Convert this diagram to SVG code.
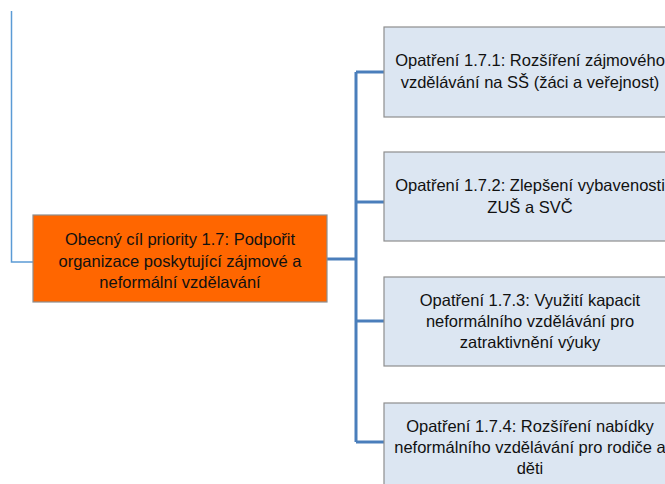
<svg xmlns="http://www.w3.org/2000/svg" width="665" height="484" viewBox="0 0 665 484">
<style>
.box{fill:#DCE6F2;stroke:#8E8E8E;stroke-width:1.2}
.main{fill:#FF6600;stroke:#8E8E8E;stroke-width:1.2}
.t{font-family:"Liberation Sans",Arial,sans-serif;font-size:16.5px;fill:#111;text-anchor:middle}
.c{fill:none;stroke:#4A7EBB;stroke-width:3}
</style>
<g id="connectors">
<path d="M11.5,11 V262 H33" fill="none" stroke="#5B9BD5" stroke-width="1.5"/>
<path class="c" d="M327,259 H356"/>
<path class="c" d="M356,72 V442"/>
<path class="c" d="M356,72 H384"/>
<path class="c" d="M356,202 H384"/>
<path class="c" d="M356,321 H384"/>
<path class="c" d="M356,442 H384"/>
</g>
<g id="goal">
<rect class="main" x="33" y="215" width="294" height="87"/>
<text class="t"><tspan x="180" y="245">Obecný cíl priority 1.7: Podpořit</tspan><tspan x="180" y="267">organizace poskytující zájmové a</tspan><tspan x="180" y="288">neformální vzdělavání</tspan></text>
</g>
<g id="m171">
<rect class="box" x="384" y="27" width="292" height="90"/>
<text class="t"><tspan x="530" y="66">Opatření 1.7.1: Rozšíření zájmového</tspan><tspan x="530" y="88">vzdělávání na SŠ (žáci a veřejnost)</tspan></text>
</g>
<g id="m172">
<rect class="box" x="384" y="152" width="292" height="89"/>
<text class="t"><tspan x="530" y="191">Opatření 1.7.2: Zlepšení vybavenosti</tspan><tspan x="530" y="213">ZUŠ a SVČ</tspan></text>
</g>
<g id="m173">
<rect class="box" x="384" y="277" width="292" height="89"/>
<text class="t"><tspan x="530" y="306">Opatření 1.7.3: Využití kapacit</tspan><tspan x="530" y="327">neformálního vzdělávání pro</tspan><tspan x="530" y="348">zatraktivnění výuky</tspan></text>
</g>
<g id="m174">
<rect class="box" x="384" y="403" width="292" height="90"/>
<text class="t"><tspan x="530" y="432">Opatření 1.7.4: Rozšíření nabídky</tspan><tspan x="530" y="453">neformálního vzdělávání pro rodiče a</tspan><tspan x="530" y="474">děti</tspan></text>
</g>
</svg>
